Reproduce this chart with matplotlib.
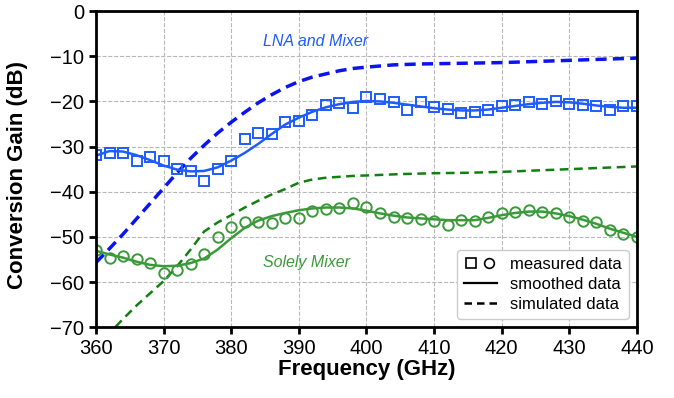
import numpy as np
import matplotlib
matplotlib.use("Agg")
import matplotlib.pyplot as plt
from matplotlib.lines import Line2D
from matplotlib.legend_handler import HandlerTuple

plt.rcParams['font.family'] = ['Liberation Sans', 'DejaVu Sans']

# measured points, every 2 GHz from 360 to 440
freq_meas = np.arange(360, 441, 2)
lna_meas = [-31.8, -31.5, -31.5, -33.1, -32.4, -33.3, -35.0, -35.5, -37.7, -35.0,
            -33.3, -28.4, -26.9, -27.2, -24.6, -24.4, -22.9, -20.9, -20.4, -21.5,
            -19.0, -19.4, -20.1, -21.8, -20.1, -21.3, -21.6, -22.5, -22.4, -22.0,
            -21.1, -20.7, -20.1, -20.5, -19.8, -20.5, -20.7, -21.0, -21.8, -21.0,
            -21.0]
mix_meas = [-53.0, -54.7, -54.2, -55.0, -55.8, -58.1, -57.4, -56.1, -53.7, -50.1,
            -47.8, -46.6, -46.6, -47.0, -45.8, -45.8, -44.2, -43.8, -43.6, -42.6,
            -43.3, -44.7, -45.6, -45.9, -46.1, -46.4, -47.4, -46.2, -46.5, -45.6,
            -44.8, -44.6, -44.1, -44.4, -44.8, -45.6, -46.4, -46.8, -48.5, -49.3,
            -50.0]

# smoothed curves
lna_smooth = [-32.0, -31.0, -31.1, -31.9, -33.0, -34.2, -35.1, -35.5, -35.4, -34.6,
              -33.1, -31.4, -29.4, -27.2, -25.1, -23.6, -22.3, -21.3, -20.6, -20.1,
              -19.9, -20.0, -20.3, -20.7, -21.1, -21.5, -21.8, -22.0, -22.0, -21.8,
              -21.4, -21.0, -20.6, -20.3, -20.1, -20.2, -20.5, -20.9, -21.2, -21.4,
              -21.4]
mix_smooth = [-53.1, -53.9, -54.6, -55.5, -56.2, -56.5, -56.4, -55.8, -54.8, -52.8,
              -50.3, -48.0, -46.4, -45.4, -44.7, -44.1, -43.7, -43.5, -43.5, -43.7,
              -44.2, -44.8, -45.3, -45.7, -45.9, -46.1, -46.3, -46.3, -46.3, -45.8,
              -45.2, -44.7, -44.4, -44.4, -44.8, -45.4, -46.2, -47.1, -48.2, -49.1,
              -50.0]

# simulated curves
freq_sim_lna = [360, 362, 364, 366, 368, 370, 372, 374, 376, 378, 380, 382, 384, 386,
                388, 390, 392, 394, 396, 398, 400, 404, 408, 412, 416, 420, 424, 428,
                432, 436, 440]
lna_sim = [-55.7, -52.6, -49.4, -46.0, -42.6, -39.2, -35.8, -32.6, -29.7, -27.0,
           -24.6, -22.4, -20.3, -18.5, -16.9, -15.6, -14.6, -13.9, -13.2, -12.7,
           -12.4, -11.9, -11.7, -11.6, -11.5, -11.4, -11.2, -11.0, -10.8, -10.6,
           -10.4]
freq_sim_mix = [360, 362, 364, 366, 368, 370, 372, 374, 376, 378, 380, 382, 384, 386,
                388, 390, 392, 394, 396, 398, 400, 405, 410, 415, 420, 425, 430, 435,
                440]
mix_sim = [-74.5, -71.3, -68.2, -65.2, -62.5, -59.8, -56.5, -52.8, -48.8, -46.8,
           -45.2, -43.5, -42.0, -40.6, -39.4, -38.0, -37.3, -36.9, -36.7, -36.5,
           -36.4, -36.1, -35.9, -35.8, -35.6, -35.3, -35.0, -34.7, -34.4]

c_lna = '#1f5cff'
c_lna_sim = '#0a14f0'
c_mix = '#3a9a3a'
c_mix_sim = '#118011'

fig = plt.figure(figsize=(6.74, 3.98), dpi=100)
ax = fig.add_axes([0.1424, 0.178, 0.8026, 0.794])

ax.plot(freq_sim_lna, lna_sim, '--', color=c_lna_sim, lw=2.5, dashes=(3.2, 1.8))
ax.plot(freq_sim_mix, mix_sim, '--', color=c_mix_sim, lw=1.8, dashes=(3.5, 2.2))
ax.plot(freq_meas, lna_smooth, '-', color=c_lna, lw=1.8)
ax.plot(freq_meas, mix_smooth, '-', color=c_mix, lw=1.8)
ax.plot(freq_meas, lna_meas, 's', mfc='none', mec=c_lna, ms=7.3, mew=1.4)
ax.plot(freq_meas, mix_meas, 'o', mfc='none', mec=c_mix, ms=7.5, mew=1.4)

ax.text(392.5, -6.7, 'LNA and Mixer', color=c_lna, style='italic', fontsize=11.5,
        ha='center', va='center')
ax.text(391.2, -55.6, 'Solely Mixer', color=c_mix, style='italic', fontsize=11.5,
        ha='center', va='center')

ax.set_xlim(360, 440)
ax.set_ylim(-70, 0)
ax.set_xticks(np.arange(360, 441, 10))
ax.set_yticks(np.arange(-70, 1, 10))
ax.grid(True, ls='--', color='#b8b8b8', lw=0.8)
ax.set_axisbelow(True)
for s in ax.spines.values():
    s.set_linewidth(2)
ax.tick_params(labelsize=14.5, width=2, length=5, direction='out')
ax.set_xlabel('Frequency (GHz)', fontsize=16, fontweight='bold', labelpad=1)
ax.set_ylabel('Conversion Gain (dB)', fontsize=16, fontweight='bold', labelpad=7)
ax.yaxis.set_label_coords(-0.125, 0.48)

h_meas = (Line2D([], [], ls='none', marker='s', mfc='none', mec='k', ms=7, mew=1.2),
          Line2D([], [], ls='none', marker='o', mfc='none', mec='k', ms=7, mew=1.2))
h_smooth = Line2D([], [], color='k', lw=1.6)
h_sim = Line2D([], [], color='k', lw=1.8, ls='--', dashes=(3, 2))
ax.legend([h_meas, h_smooth, h_sim], ['measured data', 'smoothed data', 'simulated data'],
          handler_map={tuple: HandlerTuple(ndivide=None, pad=0.2)},
          loc='lower right', fontsize=12, framealpha=1, edgecolor='#cccccc',
          handlelength=2.0, borderaxespad=0.5, labelspacing=0.3)

fig.savefig('out.png', dpi=100)
